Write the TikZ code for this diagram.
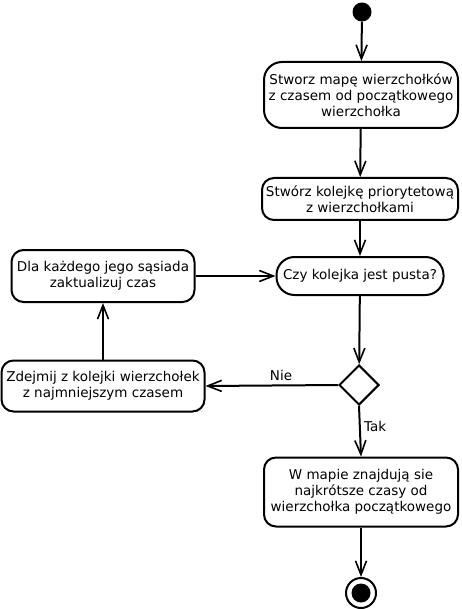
\documentclass[tikz,border=0pt]{standalone}
\usepackage{fontspec}
\setmainfont{DejaVu Sans}
\usetikzlibrary{shapes.geometric}
\usetikzlibrary{arrows.meta}
\tikzset{
  akcja/.style={draw, line width=2pt, rounded corners=12pt, align=center, inner sep=0pt, font=\fontsize{13.5}{16}\selectfont},
  przejscie/.style={line width=2pt, -{Straight Barb[length=14pt,width=11pt,line width=1.6pt]}},
  opis/.style={font=\fontsize{13.5}{16}\selectfont},
}

\begin{document}
\begin{tikzpicture}[x=1pt,y=-1pt]
\useasboundingbox (0,0) rectangle (462,609);
\node[circle, fill=black, minimum size=19pt, inner sep=0pt] (start) at (362,12) {};
\node[akcja, minimum width=194pt, minimum height=66pt, rounded corners=18pt] (mapa) at (361,95) {Stworz mapę wierzchołków\\z czasem od początkowego\\wierzchołka};
\node[akcja, minimum width=196pt, minimum height=42pt] (kolejka) at (360,199) {Stwórz kolejkę priorytetową\\z wierzchołkami};
\node[akcja, minimum width=167pt, minimum height=38pt, rounded corners=18pt] (pusta) at (360,276) {Czy kolejka jest pusta?};
\node[draw, diamond, aspect=1, line width=2pt, minimum width=40pt, minimum height=40pt, inner sep=0pt] (decyzja) at (359,385) {};
\node[akcja, minimum width=203pt, minimum height=51pt] (zdejmij) at (103,386) {Zdejmij z kolejki wierzchołek\\z najmniejszym czasem};
\node[akcja, minimum width=183pt, minimum height=52pt] (sasiedzi) at (103,276) {Dla każdego jego sąsiada\\zaktualizuj czas};
\node[akcja, minimum width=194pt, minimum height=69pt] (wynik) at (361,492) {W mapie znajdują sie\\najkrótsze czasy od\\wierzchołka początkowego};
\node[circle, draw, line width=2pt, minimum size=30pt, inner sep=0pt] (koniec) at (361,593) {};
\fill (koniec) circle (9.5pt);

\draw[przejscie] (start) -- (mapa);
\draw[przejscie] (mapa) -- (kolejka);
\draw[przejscie] (kolejka) -- (pusta);
\draw[przejscie] (pusta) -- (decyzja);
\draw[przejscie] (decyzja.west) -- node[opis, above, pos=0.43] {Nie} (zdejmij.east);
\draw[przejscie] (zdejmij) -- (sasiedzi);
\draw[przejscie] (sasiedzi) -- (pusta);
\draw[przejscie] (decyzja.south) -- node[opis, right, pos=0.4] {Tak} (wynik.north);
\draw[przejscie] (wynik) -- (koniec);
\end{tikzpicture}
\end{document}
